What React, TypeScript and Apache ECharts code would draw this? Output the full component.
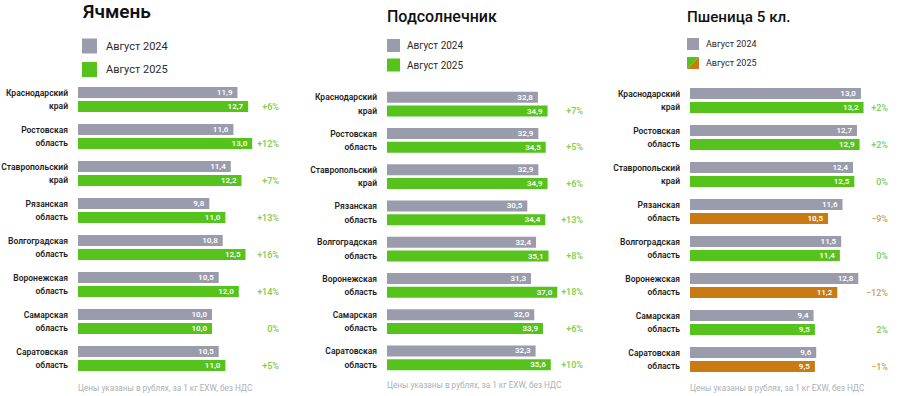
import React, { useEffect, useRef } from "react";
import * as echarts from "echarts";

const regions = [
  "Краснодарский\nкрай",
  "Ростовская\nобласть",
  "Ставропольский\nкрай",
  "Рязанская\nобласть",
  "Волгоградская\nобласть",
  "Воронежская\nобласть",
  "Самарская\nобласть",
  "Саратовская\nобласть",
];

const barley2024 = [11.9, 11.6, 11.4, 9.8, 10.8, 10.5, 10.0, 10.5];
const barley2025 = [12.7, 13.0, 12.2, 11.0, 12.5, 12.0, 10.0, 11.0];
const barleyChange = ["+6%", "+12%", "+7%", "+13%", "+16%", "+14%", "0%", "+5%"];

const sunflower2024 = [32.8, 32.9, 32.9, 30.5, 32.4, 31.3, 32.0, 32.3];
const sunflower2025 = [34.9, 34.5, 34.9, 34.4, 35.1, 37.0, 33.9, 35.6];
const sunflowerChange = ["+7%", "+5%", "+6%", "+13%", "+8%", "+18%", "+6%", "+10%"];

const wheat2024 = [13.0, 12.7, 12.4, 11.6, 11.5, 12.8, 9.4, 9.6];
const wheat2025 = [13.2, 12.9, 12.5, 10.5, 11.4, 11.2, 9.5, 9.5];
const wheatChange = ["+2%", "+2%", "0%", "−9%", "0%", "−12%", "2%", "−1%"];

const titles = ["Ячмень", "Подсолнечник", "Пшеница 5 кл."];
const legendNames = ["Август 2024", "Август 2025"];
const footnote = "Цены указаны в рублях, за 1 кг EXW, без НДС";

const GRAY = "#9a9cac";
const GREEN = "#55c31c";
const ORANGE = "#c97a12";
const GREEN_TXT = "#5cc22c";
const ORANGE_TXT = "#c98a2a";
const FONT = "Roboto, 'Noto Sans', sans-serif";

const panels = [
  {
    v24: barley2024, v25: barley2025, change: barleyChange,
    grid: { left: 78, width: 201, top: 81, height: 296 }, max: 15,
    title: { x: 83, y: 11.5, size: 19, weight: 600 },
    legend: { x: 82, y1: 46, y2: 69.5, sq: 15, font: 11, tx: 106, split: false },
    footY: 388,
  },
  {
    v24: sunflower2024, v25: sunflower2025, change: sunflowerChange,
    grid: { left: 387, width: 196, top: 86, height: 290 }, max: 42.6,
    title: { x: 387, y: 16.7, size: 16, weight: 500 },
    legend: { x: 387, y1: 45.5, y2: 65, sq: 13, font: 10, tx: 407, split: false },
    footY: 385,
  },
  {
    v24: wheat2024, v25: wheat2025, change: wheatChange,
    grid: { left: 690, width: 198, top: 82, height: 296 }, max: 15.06,
    title: { x: 687, y: 17.5, size: 15.2, weight: 500 },
    legend: { x: 687, y1: 44, y2: 63, sq: 12, font: 9, tx: 706, split: true },
    footY: 388,
  },
];

const isNeg = (s: string) => s.startsWith("−") || s.startsWith("-");
const fmt = (v: number) => v.toFixed(1).replace(".", ",");

export default function App() {
  const ref = useRef<HTMLDivElement>(null);
  useEffect(() => {
    const chart = echarts.init(ref.current!, undefined, { renderer: "svg" });
    const grids: any[] = [];
    const xAxes: any[] = [];
    const yAxes: any[] = [];
    const series: any[] = [];
    const graphic: any[] = [];

    panels.forEach((p, i) => {
      grids.push({ ...p.grid, containLabel: false, outerBoundsMode: "none" });
      xAxes.push({
        type: "value", gridIndex: i, min: 0, max: p.max,
        show: false, splitLine: { show: false },
      });
      yAxes.push({
        type: "category", gridIndex: i, inverse: true, data: regions,
        axisLine: { show: false }, axisTick: { show: false },
        axisLabel: {
          margin: 10, fontSize: 8.5, lineHeight: 13.5, fontWeight: 600,
          color: "#1e1e1e", fontFamily: FONT, align: "right",
        },
      });
      const labelCommon = {
        show: true, position: "insideRight", distance: 5,
        color: "#ffffff", fontSize: 8, fontWeight: 600, fontFamily: FONT,
        formatter: (d: any) => fmt(d.value),
      };
      series.push({
        type: "bar", name: legendNames[0], xAxisIndex: i, yAxisIndex: i,
        data: p.v24, barWidth: 11, barGap: "27%",
        itemStyle: { color: GRAY }, label: labelCommon,
      });
      series.push({
        type: "bar", name: legendNames[1], xAxisIndex: i, yAxisIndex: i,
        data: p.v25.map((v, k) => ({
          value: v,
          itemStyle: { color: isNeg(p.change[k]) ? ORANGE : GREEN },
        })),
        barWidth: 11, barGap: "27%", label: labelCommon,
      });
      series.push({
        type: "scatter", xAxisIndex: i, yAxisIndex: i, symbolSize: 0,
        silent: true,
        data: p.change.map((c, k) => ({
          value: [p.max, k],
          label: { color: isNeg(c) ? ORANGE_TXT : GREEN_TXT },
        })),
        label: {
          show: true, position: "left", distance: 0, offset: [0, 7],
          fontSize: 9, fontWeight: 600, fontFamily: FONT,
          formatter: (d: any) => p.change[d.dataIndex],
        },
      });

      graphic.push({
        type: "text", left: p.title.x, top: p.title.y - p.title.size / 2,
        style: {
          text: titles[i], fontSize: p.title.size, fontWeight: p.title.weight,
          fill: "#111111", fontFamily: FONT,
        },
      });
      const L = p.legend;
      graphic.push({
        type: "rect", shape: { x: L.x, y: L.y1 - L.sq / 2, width: L.sq, height: L.sq },
        style: { fill: GRAY },
      });
      if (L.split) {
        const y0 = L.y2 - L.sq / 2;
        graphic.push({
          type: "polygon",
          shape: { points: [[L.x, y0], [L.x + L.sq, y0], [L.x, y0 + L.sq]] },
          style: { fill: GREEN },
        });
        graphic.push({
          type: "polygon",
          shape: { points: [[L.x + L.sq, y0], [L.x + L.sq, y0 + L.sq], [L.x, y0 + L.sq]] },
          style: { fill: ORANGE },
        });
      } else {
        graphic.push({
          type: "rect", shape: { x: L.x, y: L.y2 - L.sq / 2, width: L.sq, height: L.sq },
          style: { fill: GREEN },
        });
      }
      [L.y1, L.y2].forEach((yy, k) => {
        graphic.push({
          type: "text", x: L.tx, y: yy,
          style: {
            text: legendNames[k], fontSize: L.font, fill: "#2a2a2a",
            fontFamily: FONT, verticalAlign: "middle", fontWeight: 400,
          },
        });
      });
      graphic.push({
        type: "text", x: p.grid.left, y: p.footY,
        style: {
          text: footnote, fontSize: 8.2, fill: "#aab0b8",
          fontFamily: FONT, verticalAlign: "middle",
        },
      });
    });

    chart.setOption({
      animation: false,
      backgroundColor: "#ffffff",
      grid: grids,
      xAxis: xAxes,
      yAxis: yAxes,
      series,
      graphic,
    });
    return () => chart.dispose();
  }, []);
  return (
    <div
      ref={ref}
      style={{ position: "fixed", left: 0, top: 0, width: 900, height: 396 }}
    />
  );
}
